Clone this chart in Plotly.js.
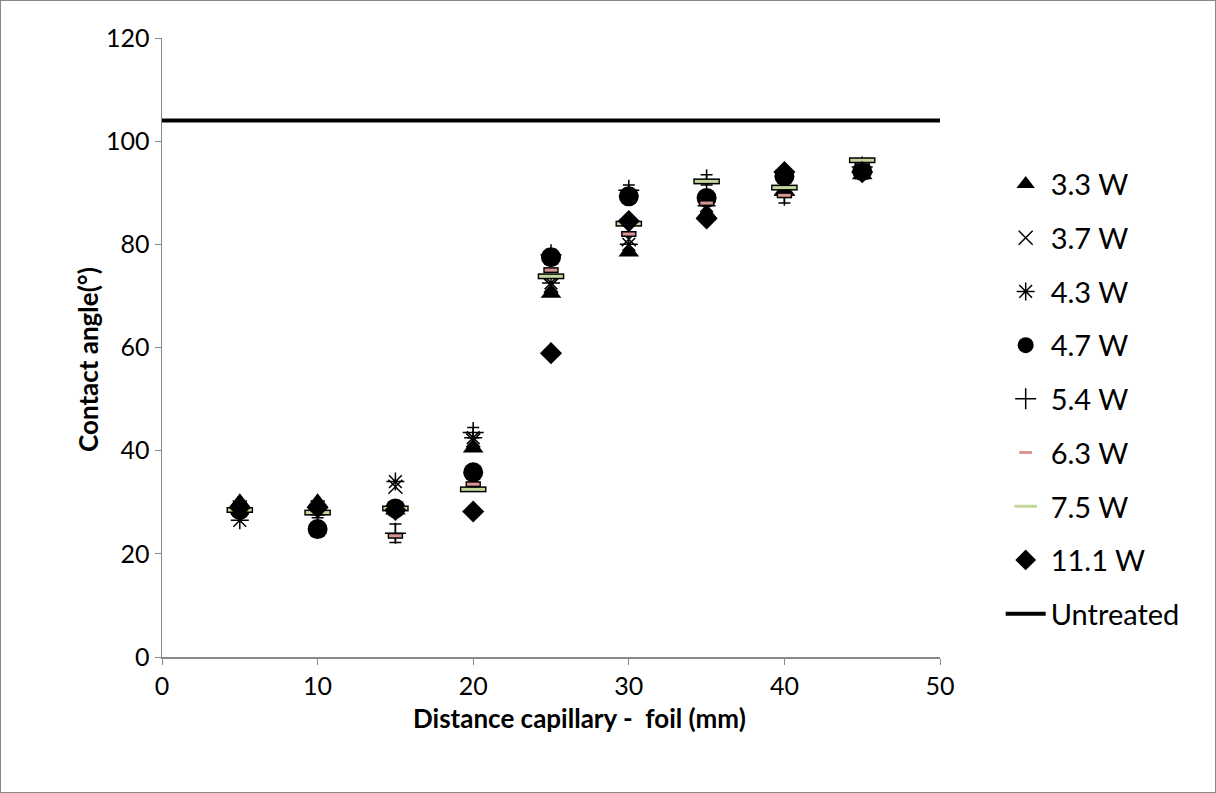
<!DOCTYPE html>
<html><head><meta charset="utf-8">
<script src="https://cdn.plot.ly/plotly-3.0.1.min.js"></script>
<style>html,body{margin:0;padding:0;background:#fff}#c{width:1216px;height:793px;}#frame{position:absolute;left:0;top:0;width:1216px;height:793px;box-sizing:border-box;border:1px solid #888;pointer-events:none}</style>
</head><body><div id="c"></div><div id="frame"></div>
<script>
const distance = [5, 10, 15, 20, 25, 30, 35, 40, 45];
const w33 = [30.0, 30.0, 28.5, 40.5, 70.5, 78.5, 86.0, 90.5, 93.5];
const w37 = [29.0, 29.0, 33.0, 42.0, 72.0, 81.0, 87.0, 92.0, 94.0];
const w43 = [26.5, 29.0, 34.0, 42.5, 72.5, 80.0, 87.5, 93.0, 94.0];
const w47 = [28.5, 24.8, 28.8, 35.8, 77.5, 89.3, 89.0, 93.2, 94.2];
const w54 = [29.0, 28.0, 24.0, 43.5, 78.0, 90.5, 92.5, 89.5, 95.0];
const w54err = [1.0, 1.0, 1.8, 1.0, 1.0, 1.0, 1.0, 1.5, 1.0];
const w63 = [28.5, 28.0, 23.5, 33.5, 75.0, 82.0, 88.0, 89.5, 96.0];
const w75 = [28.5, 28.0, 28.8, 32.5, 73.8, 84.0, 92.2, 91.0, 96.3];
const w111 = [29.0, 29.0, 28.5, 28.2, 58.9, 84.5, 85.0, 94.0, 94.0];
const untreatedX = [0, 50];
const untreatedY = [104, 104];

const font = "Lato, 'Open Sans', sans-serif";
function sc(name, y, marker, extra) {
  return Object.assign({x: distance, y: y, name: name, type: 'scatter', mode: 'markers',
    marker: marker, legendgroup: name, cliponaxis: false}, extra || {});
}
const traces = [
  sc('3.3 W', w33, {symbol: 'triangle-up', size: 18, color: '#000'}),
  sc('3.7 W', w37, {symbol: 'x-thin-open', size: 14, color: '#000', line: {color: '#000', width: 1.5}}),
  sc('4.3 W', w43, {symbol: 'asterisk-open', size: 15, color: '#000', line: {color: '#000', width: 1.5}}),
  sc('4.7 W', w47, {symbol: 'circle', size: 20, color: '#000'}),
  sc('5.4 W', w54, {symbol: 'cross-thin-open', size: 15, color: '#000', line: {color: '#000', width: 1.5}},
     {error_y: {type: 'data', array: w54err, color: '#000', thickness: 1.5, width: 6}}),
  sc('6.3 W', w63, {symbol: 'line-ew-open', size: 11, color: '#000', line: {color: '#000', width: 6}}, {showlegend: false, legendgroup: 'g6'}),
  sc('6.3 W', w63, {symbol: 'line-ew-open', size: 9, color: '#d99694', line: {color: '#d99694', width: 3}}, {legendgroup: 'g6'}),
  sc('7.5 W', w75, {symbol: 'line-ew-open', size: 19, color: '#000', line: {color: '#000', width: 6}}, {showlegend: false, legendgroup: 'g7'}),
  sc('7.5 W', w75, {symbol: 'line-ew-open', size: 17, color: '#c3d69b', line: {color: '#c3d69b', width: 3}}, {legendgroup: 'g7'}),
  sc('11.1 W', w111, {symbol: 'diamond', size: 17, color: '#000'}),
  {x: untreatedX, y: untreatedY, name: 'Untreated', type: 'scatter', mode: 'lines',
   line: {color: '#000', width: 4}, legendgroup: 'g99'}
];
const layout = {
  width: 1216, height: 793,
  margin: {l: 162, r: 276, t: 38, b: 136},
  paper_bgcolor: '#fff', plot_bgcolor: '#fff',
  font: {family: font, size: 25, color: '#000'},
  showlegend: true,
  legend: {x: 1.078, xanchor: 'left', y: 0.805, yanchor: 'top', tracegroupgap: 13,
    font: {family: font, size: 29, color: '#000'}, itemwidth: 40},
  xaxis: {range: [0, 50], dtick: 10, tick0: 0, showgrid: false, zeroline: false,
    showline: true, linecolor: '#888', linewidth: 1.5, ticks: 'outside', ticklen: 6, tickcolor: '#888',
    tickfont: {size: 25}},
  yaxis: {range: [0, 120], dtick: 20, tick0: 0, showgrid: false, zeroline: false,
    showline: true, linecolor: '#888', linewidth: 1.5, ticks: 'outside', ticklen: 6, tickcolor: '#888',
    tickfont: {size: 25}},
  annotations: [
    {text: '<b>Distance capillary -  foil (mm)</b>', xref: 'paper', yref: 'paper', x: 0.537, y: -0.0985,
     xanchor: 'center', yanchor: 'middle', showarrow: false, font: {size: 26}},
    {text: '<b>Contact angle(°)</b>', xref: 'paper', yref: 'paper', x: -0.095, y: 0.48,
     xanchor: 'center', yanchor: 'middle', showarrow: false, textangle: -90, font: {size: 26}}
  ]
};
Plotly.newPlot('c', traces, layout, {displayModeBar: false, staticPlot: true});
</script></body></html>
